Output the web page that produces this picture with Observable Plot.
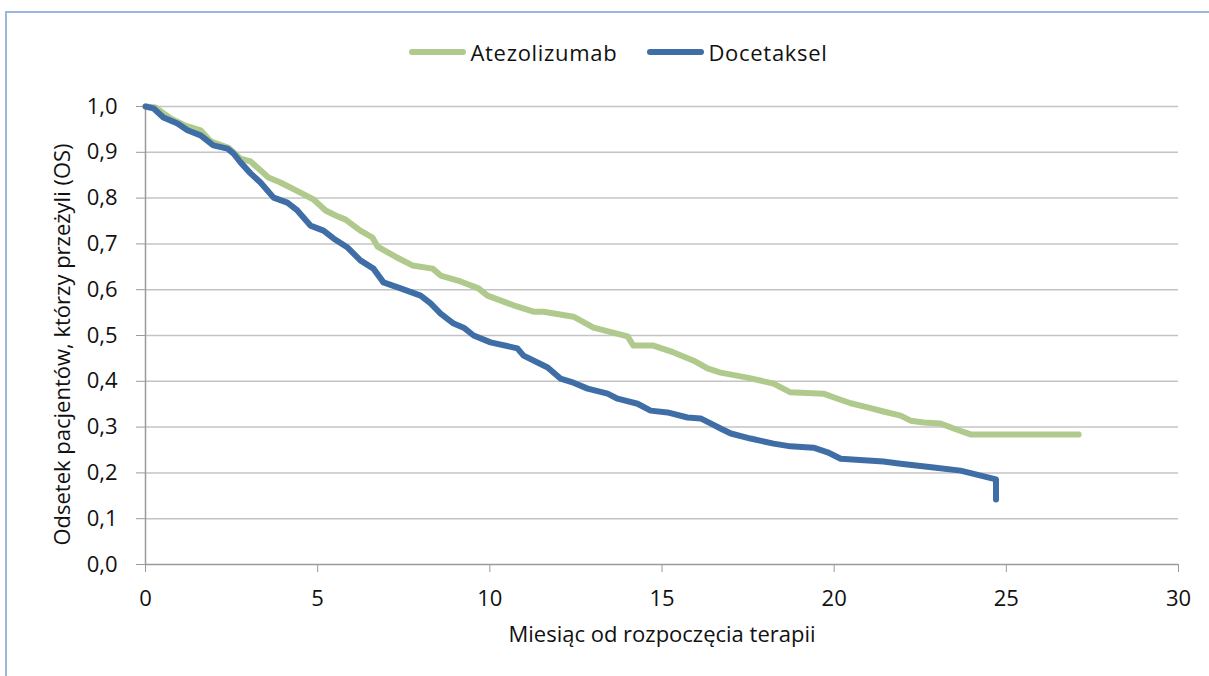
<!DOCTYPE html>
<html lang="pl">
<head>
<meta charset="utf-8">
<script src="https://cdn.jsdelivr.net/npm/d3@7"></script>
<script src="https://cdn.jsdelivr.net/npm/@observablehq/plot@0.6"></script>
<style>
  html, body { margin: 0; padding: 0; background: #fff; }
  #chart { position: relative; width: 1209px; height: 676px; overflow: hidden; font-family: "Open Sans", sans-serif; }
  #frame { position: absolute; left: 5px; top: 11px; right: -4px; bottom: -4px; border-top: 2px solid #9ab7dc; border-left: 2px solid #9ab7dc; }
  #legend { position: absolute; top: 37px; left: 0; width: 1209px; display: flex; justify-content: center; gap: 30px; font-size: 22px; letter-spacing: 0.7px; color: #111; padding-left: 28px; box-sizing: border-box; }
  #legend .item { display: flex; align-items: center; gap: 4px; }
  #legend .swatch { width: 57px; height: 6px; border-radius: 3px; }
  #chart svg { position: absolute; left: 0; top: 0; }
</style>
</head>
<body>
<div id="chart">
  <div id="frame"></div>
  <div id="legend"></div>
</div>
<script>
// Kaplan–Meier overall survival, read as (month, proportion alive)
const seriesNames = ["Atezolizumab", "Docetaksel"];
const seriesColors = ["#b0ca8d", "#3f6ea7"];

const atezoMonths = [0, 0.29, 0.73, 1.16, 1.6, 1.89, 2.41, 2.76, 3.05, 3.57, 3.92, 4.5, 4.88, 5.23, 5.52, 5.81, 6.24, 6.59, 6.74, 7.26, 7.75, 8.34, 8.57, 9.15, 9.67, 9.93, 10.69, 11.27, 11.56, 12.43, 12.63, 13.01, 14.0, 14.17, 14.75, 15.34, 15.92, 16.32, 16.7, 17.48, 18.24, 18.73, 19.69, 20.1, 20.48, 20.97, 21.43, 21.93, 22.22, 22.6, 23.09, 23.47, 23.96, 27.1];
const atezoSurvival = [1.0, 0.998, 0.974, 0.958, 0.948, 0.924, 0.91, 0.886, 0.88, 0.845, 0.834, 0.812, 0.797, 0.773, 0.762, 0.753, 0.729, 0.714, 0.694, 0.672, 0.653, 0.646, 0.631, 0.618, 0.603, 0.587, 0.566, 0.552, 0.552, 0.541, 0.533, 0.517, 0.498, 0.478, 0.478, 0.463, 0.445, 0.428, 0.419, 0.408, 0.395, 0.376, 0.373, 0.362, 0.352, 0.343, 0.334, 0.325, 0.314, 0.31, 0.308, 0.297, 0.284, 0.284];

const doceMonths = [0, 0.23, 0.52, 0.93, 1.22, 1.6, 1.97, 2.38, 2.56, 2.76, 3.05, 3.34, 3.72, 4.12, 4.41, 4.79, 5.17, 5.46, 5.87, 6.24, 6.62, 6.91, 7.41, 7.99, 8.28, 8.57, 8.95, 9.24, 9.53, 10.02, 10.8, 10.98, 11.68, 12.05, 12.43, 12.84, 13.42, 13.71, 14.29, 14.67, 15.16, 15.74, 16.12, 16.41, 16.7, 17.0, 17.57, 18.24, 18.73, 19.4, 19.81, 20.19, 21.43, 21.93, 22.89, 23.67, 24.7, 24.7];
const doceSurvival = [1.0, 0.996, 0.976, 0.963, 0.948, 0.937, 0.915, 0.908, 0.897, 0.878, 0.854, 0.834, 0.801, 0.79, 0.773, 0.74, 0.729, 0.712, 0.692, 0.664, 0.646, 0.616, 0.603, 0.587, 0.57, 0.548, 0.526, 0.517, 0.5, 0.485, 0.472, 0.456, 0.43, 0.406, 0.397, 0.384, 0.373, 0.362, 0.351, 0.336, 0.332, 0.321, 0.319, 0.308, 0.297, 0.286, 0.275, 0.264, 0.258, 0.255, 0.245, 0.231, 0.225, 0.22, 0.212, 0.205, 0.186, 0.142];

const xTicks = [0, 5, 10, 15, 20, 25, 30];
const yTicks = [0, 0.1, 0.2, 0.3, 0.4, 0.5, 0.6, 0.7, 0.8, 0.9, 1.0];
const xLabel = "Miesiąc od rozpoczęcia terapii";
const yLabel = "Odsetek pacjentów, którzy przeżyli (OS)";

const rows = [
  ...atezoMonths.map((m, i) => ({series: seriesNames[0], month: m, surv: atezoSurvival[i]})),
  ...doceMonths.map((m, i) => ({series: seriesNames[1], month: m, surv: doceSurvival[i]}))
];

const fmt = d => d.toFixed(1).replace(".", ",");

const plot = Plot.plot({
  width: 1209,
  height: 676,
  marginLeft: 145,
  marginRight: 31,
  marginTop: 106,
  marginBottom: 112,
  style: {fontFamily: "'Open Sans', sans-serif", fontSize: "22px", background: "transparent", color: "#111"},
  x: {domain: [0, 30]},
  y: {domain: [0, 1]},
  color: {domain: seriesNames, range: seriesColors},
  marks: [
    Plot.ruleY(yTicks.slice(1), {stroke: "#c4c4c4", strokeWidth: 1.5}),
    Plot.ruleX([0], {stroke: "#9a9a9a", strokeWidth: 1.5}),
    Plot.ruleY([0], {stroke: "#9a9a9a", strokeWidth: 1.5}),
    Plot.axisX({ticks: xTicks, tickSize: 8, tickPadding: 18, stroke: "#9a9a9a", fill: "#111", label: null, tickFormat: d => String(d)}),
    Plot.axisY({ticks: yTicks, tickSize: 9, tickPadding: 19, stroke: "#9a9a9a", fill: "#111", label: null, tickFormat: fmt}),
    Plot.line(rows, {x: "month", y: "surv", z: "series", stroke: "series", strokeWidth: 6, strokeLinejoin: "round", strokeLinecap: "round", curve: "linear"}),
    Plot.text([xLabel], {frameAnchor: "bottom", dy: 77, text: d => d, fontSize: 22, fill: "#111"}),
    Plot.text([yLabel], {frameAnchor: "left", textAnchor: "middle", dx: -83, dy: 9, rotate: -90, text: d => d, fontSize: 22, fill: "#111"})
  ]
});

document.getElementById("chart").appendChild(plot);

const legend = document.getElementById("legend");
seriesNames.forEach((name, i) => {
  const item = document.createElement("div");
  item.className = "item";
  const sw = document.createElement("span");
  sw.className = "swatch";
  sw.style.background = seriesColors[i];
  const label = document.createElement("span");
  label.textContent = name;
  item.appendChild(sw);
  item.appendChild(label);
  legend.appendChild(item);
});
</script>
</body>
</html>
